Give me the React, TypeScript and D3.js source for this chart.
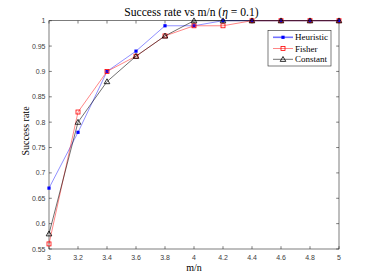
import React from "react";
import * as d3 from "d3";

const ratios = [3, 3.2, 3.4, 3.6, 3.8, 4, 4.2, 4.4, 4.6, 4.8, 5];
const heuristic = [0.67, 0.78, 0.9, 0.94, 0.99, 0.99, 1, 1, 1, 1, 1];
const fisher = [0.56, 0.82, 0.9, 0.93, 0.97, 0.99, 0.99, 1, 1, 1, 1];
const constant = [0.58, 0.8, 0.88, 0.93, 0.97, 1, 1, 1, 1, 1, 1];
const xTicks = [3, 3.2, 3.4, 3.6, 3.8, 4, 4.2, 4.4, 4.6, 4.8, 5];
const yTicks = [0.55, 0.6, 0.65, 0.7, 0.75, 0.8, 0.85, 0.9, 0.95, 1];

const W = 374, H = 280;
const L = 49, R = 339, T = 20.7, B = 249;
const serif = "'Liberation Serif', 'DejaVu Serif', serif";
const sans = "'Liberation Sans', 'DejaVu Sans', sans-serif";
const axisColor = "#262626";

export default function App() {
  const x = d3.scaleLinear().domain([3, 5]).range([L, R]);
  const y = d3.scaleLinear().domain([0.55, 1]).range([B, T]);
  const line = d3.line<number>().x((_, i) => x(ratios[i])).y((d) => y(d));

  const series = [
    { name: "Heuristic", values: heuristic, color: "#0000ff", lineColor: "rgba(0,0,255,0.55)", marker: "fsq" },
    { name: "Fisher", values: fisher, color: "#ff0000", lineColor: "rgba(255,0,0,0.6)", marker: "osq" },
    { name: "Constant", values: constant, color: "#000000", lineColor: "rgba(0,0,0,0.7)", marker: "tri" },
  ];

  const drawMarker = (m: string, cx: number, cy: number, color: string, key: any) => {
    if (m === "fsq") return <rect key={key} x={cx - 1.6} y={cy - 1.6} width={3.2} height={3.2} fill={color} />;
    if (m === "osq") return <rect key={key} x={cx - 2} y={cy - 2} width={4} height={4} fill="none" stroke={color} strokeWidth={0.8} />;
    const s = 2.8;
    return (
      <path key={key} d={`M${cx},${cy - s}L${cx + s},${cy + s * 0.75}L${cx - s},${cy + s * 0.75}Z`} fill="none" stroke={color} strokeWidth={0.8} />
    );
  };

  const legendX = 268, legendY = 30.5, legendW = 63, legendH = 35.5;
  const legendRows = [37.3, 48.5, 59.3];

  return (
    <svg width={W} height={H} style={{ position: "absolute", left: 0, top: 0, background: "#fff" }}>
      <rect x={0} y={0} width={W} height={H} fill="#fff" />
      <rect x={L} y={T} width={R - L} height={B - T} fill="none" stroke={axisColor} strokeWidth={0.6} />
      {xTicks.map((t) => (
        <g key={"xt" + t}>
          <line x1={x(t)} x2={x(t)} y1={B} y2={B - 2.8} stroke={axisColor} strokeWidth={0.6} />
          <line x1={x(t)} x2={x(t)} y1={T} y2={T + 2.8} stroke={axisColor} strokeWidth={0.6} />
          <text x={x(t)} y={B + 10.5} fontSize={7} fontFamily={sans} fill="#404040" textAnchor="middle">
            {String(t)}
          </text>
        </g>
      ))}
      {yTicks.map((t) => (
        <g key={"yt" + t}>
          <line x1={L} x2={L + 2.8} y1={y(t)} y2={y(t)} stroke={axisColor} strokeWidth={0.6} />
          <line x1={R} x2={R - 2.8} y1={y(t)} y2={y(t)} stroke={axisColor} strokeWidth={0.6} />
          <text x={L - 3.5} y={y(t) + 2.5} fontSize={7} fontFamily={sans} fill="#404040" textAnchor="end">
            {String(t)}
          </text>
        </g>
      ))}
      {series.map((s) => (
        <g key={s.name}>
          <path d={line(s.values) || ""} fill="none" stroke={s.lineColor} strokeWidth={0.8} />
          {s.values.map((v, i) => drawMarker(s.marker, x(ratios[i]), y(v), s.color, s.name + i))}
        </g>
      ))}
      <text x={191.5} y={16} fontSize={11.6} fontFamily={serif} fill="#000" textAnchor="middle">
        Success rate vs m/n (<tspan fontStyle="italic">η</tspan> = 0.1)
      </text>
      <text x={194} y={271} fontSize={10} fontFamily={serif} fill="#000" textAnchor="middle">
        m/n
      </text>
      <text x={0} y={0} fontSize={10} fontFamily={serif} fill="#000" textAnchor="middle" transform={`translate(28.5,131) rotate(-90)`}>
        Success rate
      </text>
      <rect x={legendX} y={legendY} width={legendW} height={legendH} fill="#fff" stroke={axisColor} strokeWidth={0.6} />
      {series.map((s, i) => (
        <g key={"lg" + s.name}>
          <line x1={273} x2={293} y1={legendRows[i]} y2={legendRows[i]} stroke={s.lineColor} strokeWidth={i === 0 ? 1.6 : 0.8} />
          {drawMarker(s.marker, 283, legendRows[i], s.color, "lm" + i)}
          <text x={295} y={legendRows[i] + 3} fontSize={9} fontFamily={serif} fill="#000">
            {s.name}
          </text>
        </g>
      ))}
    </svg>
  );
}
